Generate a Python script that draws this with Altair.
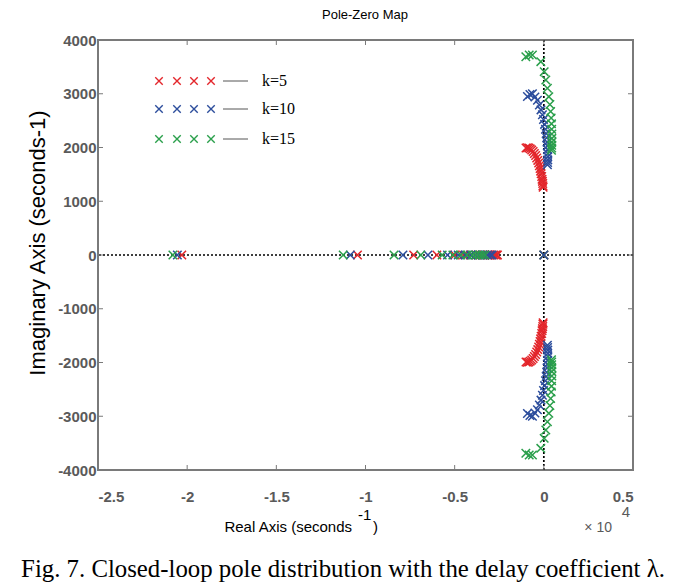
import altair as alt
import pandas as pd

# ---------------- data (real part in units of 1e4 s^-1, imaginary in s^-1) -------------
series_names = ["k=5", "k=10", "k=15"]
series_colors = ["#e3262b", "#2c4d9c", "#2a9f4b"]

# poles on the real axis
red_axis_re = [-2.03, -1.045, -0.73, -0.60, -0.50, -0.45, -0.41, -0.38, -0.355, -0.335,
               -0.315, -0.30, -0.29, -0.28, -0.27, -0.265, -0.26]
blue_axis_re = [-2.055, -1.085, -0.79, -0.65, -0.54, -0.48, -0.44, -0.41, -0.385, -0.365,
                -0.345, -0.33, -0.315, -0.30, -0.29]
green_axis_re = [-2.08, -1.125, -0.84, -0.69, -0.57, -0.51, -0.465, -0.43, -0.40, -0.38,
                 -0.36, -0.345, -0.33]

# complex branch (upper half; the lower half holds the conjugates)
red_br_re = [-0.100, -0.092, -0.084, -0.076, -0.068, -0.060, -0.053, -0.046, -0.040, -0.034,
             -0.029, -0.025, -0.021, -0.018, -0.015, -0.012, -0.010, -0.008, -0.006, -0.005, -0.004]
red_br_im = [1990, 1995, 1990, 1975, 1955, 1925, 1890, 1850, 1805, 1760,
             1710, 1660, 1610, 1560, 1510, 1460, 1410, 1370, 1330, 1290, 1260]

blue_br_re = [-0.092, -0.078, -0.064, -0.050, -0.036, -0.025, -0.016, -0.008, -0.002, 0.004,
              0.009, 0.013, 0.016, 0.018, 0.020, 0.021, 0.022, 0.022, 0.022, 0.021, 0.020]
blue_br_im = [2950, 2985, 3000, 2940, 2880, 2790, 2700, 2610, 2520, 2430,
              2340, 2260, 2180, 2100, 2030, 1960, 1890, 1830, 1770, 1720, 1680]

green_br_re = [-0.101, -0.082, -0.064, -0.017, 0.002, 0.011, 0.020, 0.028, 0.034, 0.038,
               0.041, 0.043, 0.044, 0.045, 0.045, 0.045, 0.044, 0.044, 0.043]
green_br_im = [3690, 3720, 3721, 3597, 3411, 3256, 3101, 2946, 2800, 2670,
               2550, 2440, 2340, 2250, 2170, 2100, 2040, 1990, 1950]

origin_re = [0.0]

x_tick_values = [-2.5, -2, -1.5, -1, -0.5, 0, 0.5]
y_tick_values = [-4000, -3000, -2000, -1000, 0, 1000, 2000, 3000, 4000]

# ---------------- build table ----------------
rows = []
def add(name, res, ims):
    for r, i in zip(res, ims):
        rows.append({"series": name, "re": r, "im": i})

for name, ax_re, br_re, br_im in [
    ("k=5", red_axis_re, red_br_re, red_br_im),
    ("k=10", blue_axis_re, blue_br_re, blue_br_im),
    ("k=15", green_axis_re, green_br_re, green_br_im),
]:
    add(name, ax_re, [0] * len(ax_re))
    add(name, br_re, br_im)
    add(name, br_re, [-v for v in br_im])
for name in ["k=5", "k=15", "k=10"]:
    add(name, origin_re, [0])

df = pd.DataFrame(rows)

W, H = 535, 430
XSC = alt.Scale(domain=[-2.5, 0.5], nice=False, zero=False)
YSC = alt.Scale(domain=[-4000, 4000], nice=False, zero=False)
XSHAPE = "M-1,-1L1,1M-1,1L1,-1"
SANS = "Liberation Sans"
SERIF = "Liberation Serif"
GRAY = "#7a7a7a"
LABEL_GRAY = "#5a5a5a"
one = pd.DataFrame({"a": [0]})
zero = pd.DataFrame({"z": [0]})

XAX = alt.Axis(values=x_tick_values, labelExpr="'' + datum.value", title=None,
               ticks=False, domain=False, grid=False, labelPadding=19,
               labelFont=SANS, labelFontSize=15, labelFontWeight="bold", labelColor=LABEL_GRAY)
YAX = alt.Axis(values=y_tick_values, labelExpr="'' + datum.value", title=None,
               ticks=False, domain=False, grid=False, labelPadding=2,
               labelFont=SANS, labelFontSize=15, labelFontWeight="bold", labelColor=LABEL_GRAY)

# zero lines
vline = alt.Chart(zero).mark_rule(color="black", strokeDash=[2, 2], strokeWidth=1.7).encode(
    x=alt.X("z:Q", scale=XSC, axis=XAX))
hline = alt.Chart(zero).mark_rule(color="black", strokeDash=[2, 2], strokeWidth=1.7).encode(
    y=alt.Y("z:Q", scale=YSC, axis=YAX))

points = alt.Chart(df).mark_point(shape=XSHAPE, filled=False, size=72, strokeWidth=1.5, opacity=1).encode(
    x=alt.X("re:Q", scale=XSC, axis=XAX),
    y=alt.Y("im:Q", scale=YSC, axis=YAX),
    color=alt.Color("series:N", scale=alt.Scale(domain=series_names, range=series_colors), legend=None),
)

# inward ticks on all four sides
xt = pd.DataFrame({"v": x_tick_values})
yt = pd.DataFrame({"v": y_tick_values})
tick_bottom = alt.Chart(xt).mark_rule(color=GRAY, strokeWidth=1).encode(
    x=alt.X("v:Q", scale=XSC, axis=XAX), y=alt.value(H), y2=alt.value(H - 5))
tick_top = alt.Chart(xt).mark_rule(color=GRAY, strokeWidth=1).encode(
    x=alt.X("v:Q", scale=XSC, axis=XAX), y=alt.value(0), y2=alt.value(5))
tick_left = alt.Chart(yt).mark_rule(color=GRAY, strokeWidth=1).encode(
    y=alt.Y("v:Q", scale=YSC, axis=YAX), x=alt.value(0), x2=alt.value(5))
tick_right = alt.Chart(yt).mark_rule(color=GRAY, strokeWidth=1).encode(
    y=alt.Y("v:Q", scale=YSC, axis=YAX), x=alt.value(W), x2=alt.value(W - 5))

# legend drawn inside the plot
legend_layers = []
row_y = [41, 69, 99]
marker_x = [61, 79, 96, 113]
for name, col, ry in zip(series_names, series_colors, row_y):
    for mx in marker_x:
        legend_layers.append(
            alt.Chart(one).mark_point(shape=XSHAPE, filled=False, size=56, strokeWidth=1.4,
                                      color=col, opacity=1).encode(x=alt.value(mx), y=alt.value(ry)))
    legend_layers.append(
        alt.Chart(one).mark_rule(color="#555555", strokeWidth=1).encode(
            x=alt.value(125), x2=alt.value(150), y=alt.value(ry)))
    legend_layers.append(
        alt.Chart(one).mark_text(text=name, font=SERIF, fontSize=16, align="left", baseline="middle",
                                 color="black").encode(x=alt.value(164), y=alt.value(ry)))

def txt(t, x, y, **kw):
    return alt.Chart(one).mark_text(text=t, **kw).encode(x=alt.value(x), y=alt.value(y))

texts = [
    txt("Pole-Zero Map", 267, -25, font=SANS, fontSize=13, align="center", baseline="middle", color="black"),
    txt("Imaginary Axis (seconds-1)", -60, 203, font=SANS, fontSize=22, angle=270,
        align="center", baseline="middle", color="black"),
    txt("Real Axis (seconds", 254, 487, font=SANS, fontSize=15, align="right", baseline="middle", color="black"),
    txt("-1", 260, 475, font=SANS, fontSize=15, align="left", baseline="middle", color="black"),
    txt(")", 275, 487, font=SANS, fontSize=15, align="left", baseline="middle", color="black"),
    txt("\u00d7 10", 514, 488, font=SANS, fontSize=14, align="right", baseline="middle", color=LABEL_GRAY),
    txt("4", 528, 472, font=SANS, fontSize=15, align="center", baseline="middle", color=LABEL_GRAY),
    txt("Fig. 7. Closed-loop pole distribution with the delay coefficient \u03bb.", 245, 530,
        font=SERIF, fontSize=24.8, align="center", baseline="middle", color="black"),
]

chart = alt.layer(
    vline, hline, tick_bottom, tick_top, tick_left, tick_right, points, *legend_layers, *texts
).properties(
    width=W, height=H,
    background="white",
    autosize=alt.AutoSizeParams(type="none"),
    padding={"left": 90, "top": 32, "right": 35, "bottom": 115},
).configure_view(
    stroke=GRAY, strokeWidth=2
)

chart.save("out.html", embed_options={"renderer": "svg", "actions": False})
